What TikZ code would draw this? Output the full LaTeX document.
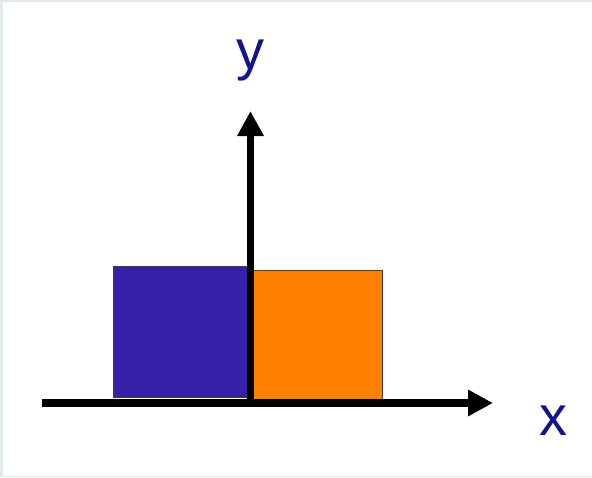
\documentclass[tikz,border=0pt]{standalone}
\usepackage{fontspec}
\setmainfont{Liberation Sans}
\usepackage{xcolor}
\definecolor{BarBlue}   {RGB}{53,  32, 168}
\definecolor{BarOrange} {RGB}{255, 128,  0}
\definecolor{AxisLabel} {RGB}{20,  20, 140}
\definecolor{FrameGray} {RGB}{226, 234, 230}
\usepackage{tikz}
\usetikzlibrary{
  arrows.meta,
  positioning
}

\begin{document}
\begin{tikzpicture}[
  x=1pt, y=-1pt,
  bar/.style={
    draw=black!75, line width=0.8pt,
    inner sep=0pt, minimum height=131pt
  },
  axis/.style={
    -{Triangle[length=25pt, width=25pt]},
    line width=7.5pt, black
  },
  label/.style={
    text=AxisLabel, anchor=base,
    font=\fontsize{56}{60}\selectfont
  }
]

% frame
\fill[FrameGray] (0,0) rectangle (592,477);
\fill[white] (3,2) rectangle (592,475.5);
\useasboundingbox (0,0) rectangle (592,477);

% bars
\node[bar, fill=BarBlue, minimum width=135pt]
  (negbar) at (180.5,331.5) {};
\node[bar, fill=BarOrange, minimum width=132pt,
      minimum height=130pt]
  (posbar) at (316,335) {};

% axes
\coordinate (xstart) at (42,403);
\coordinate (xend)   at (493,403);
\coordinate (ystart) at (250.5,406.5);
\coordinate (yend)   at (250.5,111);

\draw[axis] (xstart) -- (xend);
\draw[axis] (ystart) -- (yend);

\node[label] (ylab) at (250,69) {y};
\node[label] (xlab) at (553,435) {x};

\end{tikzpicture}
\end{document}
